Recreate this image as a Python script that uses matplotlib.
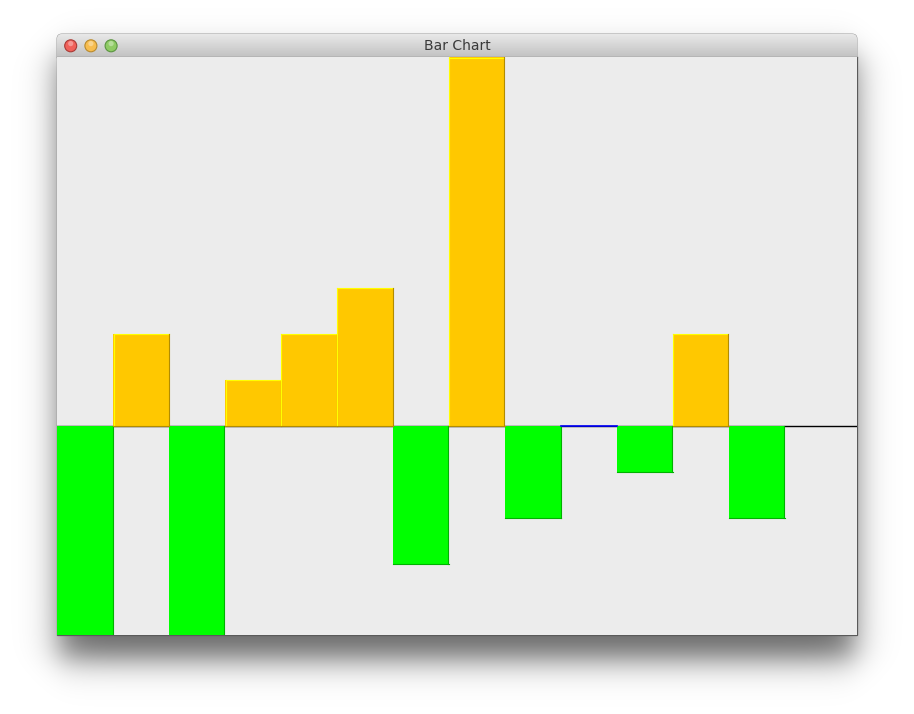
import matplotlib.pyplot as plt
import numpy as np
from matplotlib.patches import Rectangle, FancyBboxPatch, Circle

# bar values, one per column
values = [-5, 2, -5, 1, 2, 3, -3, 8, -2, 0, -1, 2, -2]
columns = np.arange(len(values))
window_title = "Bar Chart"

pos_color = "#ffc800"
pos_light = "#ffff00"
pos_dark = "#b28c00"
neg_color = "#00ff00"
neg_dark = "#00b200"
zero_color = "#0000ff"

W, H = 914, 714
win_left, win_right, win_top, win_bottom = 57, 857, 34, 635
content_top = 57


def shadow_image():
    xx = np.arange(W) + 0.5
    yy = np.arange(H) + 0.5
    s = 19.0
    sx = 0.5 * (np.tanh((xx - (win_left + 2)) / s) - np.tanh((xx - (win_right - 2)) / s))
    sy = 0.5 * (np.tanh((yy - (win_top + 22)) / s) - np.tanh((yy - (win_bottom + 24)) / s))
    a = np.outer(sy, sx) * 0.6
    img = np.zeros((H, W, 4))
    img[..., 3] = a
    return img


def main():
    fig = plt.figure(figsize=(W / 100, H / 100), dpi=100)
    fig.patch.set_facecolor("white")

    # window chrome, drawn in pixel coordinates
    bg = fig.add_axes([0, 0, 1, 1])
    bg.set_xlim(0, W)
    bg.set_ylim(H, 0)
    bg.axis("off")
    bg.imshow(shadow_image(), extent=[0, W, H, 0], interpolation="bilinear", zorder=0)

    bg.add_patch(Rectangle((win_left, content_top), win_right - win_left,
                           win_bottom - content_top, facecolor="#ececec",
                           edgecolor="#5a5a5a", linewidth=0.9, zorder=1))

    tb = FancyBboxPatch((win_left, win_top), win_right - win_left, content_top - win_top + 4,
                        boxstyle="round,pad=0,rounding_size=5",
                        facecolor="none", edgecolor="#9a9a9a", linewidth=0.7, zorder=2)
    bg.add_patch(tb)
    grad = np.linspace(0.91, 0.76, 50)[:, None] * np.ones((1, 2))
    im = bg.imshow(grad, cmap="gray", vmin=0, vmax=1, aspect="auto",
                   extent=[win_left, win_right, content_top, win_top], zorder=2)
    im.set_clip_path(tb)
    bg.plot([win_left, win_right], [content_top - 0.5, content_top - 0.5],
            color="#626262", linewidth=0.9, zorder=3)

    lights = [("#f0615a", "#a93a35"), ("#f7bd4f", "#b98a2c"), ("#8fcb64", "#5a9440")]
    for i, (fc, ec) in enumerate(lights):
        cx = 70.7 + i * 20.2
        bg.add_patch(Circle((cx, 45.8), 6.0, facecolor=fc, edgecolor=ec,
                            linewidth=0.8, zorder=4))
        bg.add_patch(Circle((cx, 43.6), 2.6, facecolor="white", alpha=0.35,
                            linewidth=0, zorder=5))
    bg.text((win_left + win_right) / 2, 46.5, window_title, ha="center", va="center",
            fontsize=10, color="#3a3a3a", zorder=5)

    # chart area
    ax = fig.add_axes([win_left / W, (H - win_bottom) / H,
                       (win_right - win_left) / W, (win_bottom - content_top) / H])
    ax.set_facecolor("#ececec")
    col_px = 56.0
    unit_px = 46.125
    ax.set_xlim(0, (win_right - win_left) / col_px)
    ax.set_ylim(-(win_bottom - 426) / unit_px, (426 - content_top) / unit_px)
    for sp in ax.spines.values():
        sp.set_visible(False)
    ax.set_xticks([])
    ax.set_yticks([])

    ax.axhline(0, color="black", linewidth=1.0, zorder=1)

    colors = [pos_color if v > 0 else neg_color for v in values]
    bars = ax.bar(columns, values, width=1.0, align="edge", color=colors,
                  linewidth=0, zorder=2)

    dx = 0.5 / col_px
    dy = 0.5 / unit_px
    for rect, v in zip(bars, values):
        x0 = rect.get_x()
        x1 = x0 + rect.get_width()
        if v > 0:
            ax.plot([x0 + dx, x1 - dx], [v - dy, v - dy], color=pos_light, lw=0.8, zorder=3)
            ax.plot([x0 + dx, x0 + dx], [0, v], color=pos_light, lw=0.8, zorder=3)
            ax.plot([x1 - dx, x1 - dx], [0, v], color=pos_dark, lw=0.8, zorder=3)
            ax.plot([x0, x1], [dy, dy], color=pos_dark, lw=0.8, zorder=3)
        elif v < 0:
            ax.plot([x1 - dx, x1 - dx], [v, 0], color=neg_dark, lw=0.8, zorder=3)
            ax.plot([x0, x1], [v + dy, v + dy], color=neg_dark, lw=0.8, zorder=3)
        else:
            ax.plot([x0, x1], [dy, dy], color=zero_color, lw=1.2, zorder=3)

    fig.savefig("out.png", dpi=100)


if __name__ == "__main__":
    main()
